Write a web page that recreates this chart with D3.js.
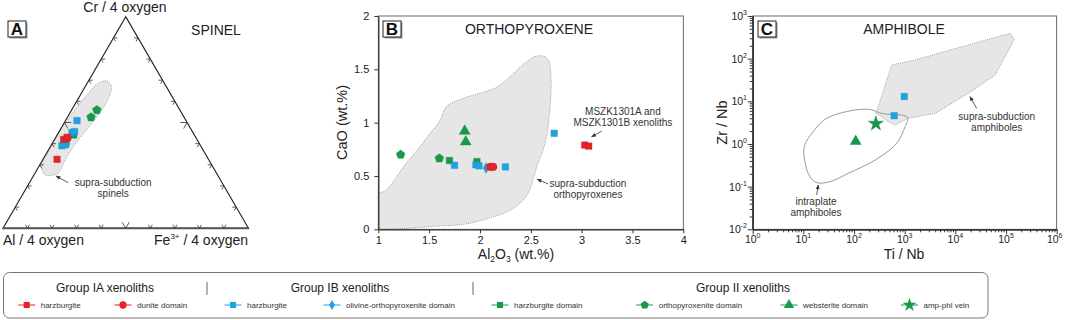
<!DOCTYPE html>
<html>
<head>
<meta charset="utf-8">
<script src="https://cdn.jsdelivr.net/npm/d3@7"></script>
<style>
  body { margin: 0; background: #fff; }
  svg { display: block; font-family: "Liberation Sans", Arial, sans-serif; }
</style>
</head>
<body>
<script>
const red = '#e4232b', blue = '#1da3e0', green = '#18994a';

// --- panel A: spinel, [Cr, Fe3+] fractions (Al = rest)
const spIAharz = [[0.326, 0.057], [0.42, 0.037], [0.43, 0.046]];
const spIAdun = [[0.425, 0.05]];
const spIBharz = [[0.509, 0.047], [0.452, 0.055], [0.457, 0.063], [0.39, 0.045], [0.398, 0.057]];
const spIBolop = [[0.40, 0.06]];
const spIIharz = [[0.441, 0.067]];
const spIIopx = [[0.559, 0.103], [0.525, 0.096]];
const spField = [[0.26, 0.035], [0.307, 0.005], [0.362, 0.005], [0.449, 0.002], [0.551, 0.012], [0.63, 0.027],
  [0.682, 0.042], [0.696, 0.075], [0.672, 0.105], [0.606, 0.123], [0.527, 0.119], [0.449, 0.104],
  [0.378, 0.092], [0.307, 0.093], [0.263, 0.095], [0.252, 0.08], [0.249, 0.055]];

// --- panel B: orthopyroxene, [Al2O3, CaO]
const opxIAharz = [[3.03, 0.79], [3.07, 0.78]];
const opxIAdun = [[2.10, 0.585], [2.13, 0.585]];
const opxIBharz = [[1.75, 0.60], [1.96, 0.605], [1.99, 0.595], [2.25, 0.585], [2.73, 0.90]];
const opxIBolop = [[2.06, 0.575]];
const opxIIharz = [[1.70, 0.645], [1.97, 0.635]];
const opxIIopx = [[1.22, 0.70], [1.60, 0.665]];
const opxIIweb = [[1.85, 0.92], [1.86, 0.82]];
const opxField = [[1, 0.344], [1.07, 0.36], [1.15, 0.45], [1.25, 0.59], [1.38, 0.74], [1.51, 0.9], [1.61, 1.025],
  [1.67, 1.15], [1.84, 1.23], [2.0, 1.275], [2.16, 1.33], [2.26, 1.40], [2.36, 1.49], [2.46, 1.57], [2.54, 1.62],
  [2.62, 1.625], [2.67, 1.59], [2.69, 1.525], [2.70, 1.34], [2.69, 1.15], [2.66, 0.90], [2.62, 0.74], [2.57, 0.62],
  [2.52, 0.46], [2.48, 0.35], [2.38, 0.23], [2.23, 0.15], [2.03, 0.088], [1.84, 0.047], [1.51, 0.025],
  [1.23, 0.006], [1, 0]];

// --- panel C: amphibole, [Ti/Nb, Zr/Nb]
const ampIBharz = [[980, 13], [620, 4.6]];
const ampIIweb = [[108, 1.15]];
const ampIIvein = [[270, 3.0]];
const ampSupra = [[272, 5.2], [554, 71], [1600, 93], [13300, 190], [120000, 392], [146000, 284], [60700, 41],
  [18000, 15.4], [3980, 5.2], [1180, 4.0], [645, 2.8], [475, 3.3], [353, 4.4]];
const ampIntra = [[10.4, 0.87], [15.7, 1.95], [26.8, 3.79], [57, 5.4], [141, 6.5], [223, 6.3], [352, 5.2],
  [1146, 4.2], [1016, 2.55], [695, 1.04], [260, 0.42], [77, 0.205], [33.6, 0.131], [18.3, 0.124],
  [13.5, 0.171], [11.1, 0.32]];

const xTicksB = [1, 1.5, 2, 2.5, 3, 3.5, 4];
const yTicksB = [0, 0.5, 1, 1.5, 2];
const xDecC = [0, 1, 2, 3, 4, 5, 6];
const yDecC = [-2, -1, 0, 1, 2, 3];

const legendGroups = ['Group IA xenoliths', 'Group IB xenoliths', 'Group II xenoliths'];
const legendLabels = ['harzburgite', 'dunite domain', 'harzburgite', 'olivine-orthopyroxenite domain',
  'harzburgite domain', 'orthopyroxenite domain', 'websterite domain', 'amp-phl vein'];
const legendColors = [red, red, blue, blue, green, green, green, green];
const legendShapes = ['square', 'circle', 'square', 'diamond', 'square', 'pentagon', 'triangle', 'star'];

// layout for legend
const groupX = [105, 340, 743], sepX = [207, 473];
const legendX = [26.7, 123, 233, 332, 500, 644.7, 789, 909.5];

const svg = d3.select('body').append('svg').attr('width', 1065).attr('height', 320);

const symbolPentagon = {
  draw(ctx, size) {
    const r = Math.sqrt(size / 2.378);
    for (let i = 0; i < 5; i++) {
      const a = -Math.PI / 2 + i * 2 * Math.PI / 5;
      i ? ctx.lineTo(r * Math.cos(a), r * Math.sin(a)) : ctx.moveTo(r * Math.cos(a), r * Math.sin(a));
    }
    ctx.closePath();
  }
};
const shapes = { square: d3.symbolSquare, circle: d3.symbolCircle, diamond: d3.symbolDiamond,
  triangle: d3.symbolTriangle, star: d3.symbolStar, pentagon: symbolPentagon };
const sizes = { square: 42, circle: 46, diamond: 32, triangle: 52, star: 55, pentagon: 50 };

function points(g, data, fx, fy, shape, color, k = 1) {
  g.append('g').selectAll('path').data(data).join('path')
    .attr('transform', d => `translate(${fx(d)},${fy(d)})`)
    .attr('d', d3.symbol(shapes[shape], sizes[shape] * k))
    .attr('fill', color).attr('stroke', d3.color(color).darker(0.4)).attr('stroke-width', 0.4);
}

svg.append('defs').append('marker')
  .attr('id', 'ah').attr('viewBox', '0 0 10 10').attr('refX', 9).attr('refY', 5)
  .attr('markerWidth', 6).attr('markerHeight', 6).attr('orient', 'auto')
  .append('path').attr('d', 'M0,1L10,5L0,9z').attr('fill', '#333');

function arrow(g, p1, p2) {
  g.append('line').attr('x1', p1[0]).attr('y1', p1[1]).attr('x2', p2[0]).attr('y2', p2[1])
    .attr('stroke', '#333').attr('stroke-width', 0.8).attr('marker-end', 'url(#ah)');
}
function note(g, lines, p, dy) {
  lines.forEach((t, i) => g.append('text').attr('x', p[0]).attr('y', p[1] + i * dy + 3.5)
    .attr('text-anchor', 'middle').attr('font-size', 10).attr('fill', '#333').text(t));
}
function letterBox(x, y, letter) {
  svg.append('rect').attr('x', x + 1.5).attr('y', y + 1.5).attr('width', 18).attr('height', 16).attr('fill', '#999');
  svg.append('rect').attr('x', x).attr('y', y).attr('width', 18).attr('height', 16)
    .attr('fill', '#fff').attr('stroke', '#222').attr('stroke-width', 1);
  svg.append('text').attr('x', x + 9).attr('y', y + 14).attr('text-anchor', 'middle')
    .attr('font-size', 17).attr('font-weight', 'bold').attr('fill', '#111').text(letter);
}
function title(x, y, t) {
  svg.append('text').attr('x', x).attr('y', y).attr('text-anchor', 'middle')
    .attr('font-size', 14).attr('fill', '#222').text(t);
}
function styleAxis(g) {
  g.select('.domain').attr('stroke', '#333').attr('stroke-width', 1.3);
  g.selectAll('.tick line').attr('stroke', '#333');
  g.selectAll('.tick text').attr('font-size', 11).attr('fill', '#222').attr('font-family', null);
}

// ================= Panel A (ternary)
const gA = svg.append('g');
const xT = d3.scaleLinear().domain([0, 1]).range([3, 248.5]);
const yT = d3.scaleLinear().domain([0, 1]).range([228.3, 16.7]);
const tx = d => xT(d[1] + d[0] / 2), ty = d => yT(d[0]);

gA.append('path').attr('d', d3.line().x(tx).y(ty).curve(d3.curveCatmullRomClosed)(spField))
  .attr('fill', '#e6e6e6').attr('stroke', '#888').attr('stroke-width', 0.8).attr('stroke-dasharray', '1,1.2');

const corners = [[1, 0], [0, 0], [0, 1]];
gA.append('path').attr('d', d3.line().x(tx).y(ty)(corners) + 'Z')
  .attr('fill', 'none').attr('stroke', '#222').attr('stroke-width', 1.2);
gA.append('line').attr('x1', tx([0, 0])).attr('y1', ty([0, 0])).attr('x2', tx([0, 1])).attr('y2', ty([0, 1]))
  .attr('stroke', '#555').attr('stroke-width', 2);

// ternary ticks (chevrons pointing inward)
const tickT = d3.range(1, 10).map(i => i / 10);
const edges = [
  { p: t => [0, t], dirs: [[-0.5, -0.866], [0.5, -0.866]] },           // bottom Al-Fe
  { p: t => [t, 0], dirs: [[1, 0], [0.5, 0.866]] },                     // left Al-Cr
  { p: t => [t, 1 - t], dirs: [[-1, 0], [-0.5, 0.866]] }                // right Cr-Fe
];
edges.forEach(e => tickT.forEach(t => {
  const c = e.p(t), px = tx(c), py = ty(c), L = Math.abs(t - 0.5) < 1e-6 ? 7 : 4;
  e.dirs.forEach(dv => gA.append('line').attr('x1', px).attr('y1', py)
    .attr('x2', px + dv[0] * L).attr('y2', py + dv[1] * L).attr('stroke', '#333').attr('stroke-width', 0.8));
}));

points(gA, spIIharz, tx, ty, 'square', green);
points(gA, spIIopx, tx, ty, 'pentagon', green);
points(gA, spIBolop, tx, ty, 'diamond', blue);
points(gA, spIBharz, tx, ty, 'square', blue);
points(gA, spIAdun, tx, ty, 'circle', red);
points(gA, spIAharz, tx, ty, 'square', red);

note(gA, ['supra-subduction', 'spinels'], [tx([0.2155, 0.341]), ty([0.2155, 0.341])], 10.6);
arrow(gA, [tx([0.2155, 0.158]), ty([0.2155, 0.158])], [tx([0.247, 0.093]), ty([0.247, 0.093])]);

svg.append('text').attr('x', 125).attr('y', 11.5).attr('text-anchor', 'middle').attr('font-size', 14)
  .attr('fill', '#222').text('Cr / 4 oxygen');
svg.append('text').attr('x', 3).attr('y', 245).attr('font-size', 14).attr('fill', '#222').text('Al / 4 oxygen');
const fe = svg.append('text').attr('x', 248).attr('y', 245).attr('text-anchor', 'end').attr('font-size', 14).attr('fill', '#222');
fe.append('tspan').text('Fe');
fe.append('tspan').attr('dy', -6).attr('font-size', 8).text('3+');
fe.append('tspan').attr('dy', 6).text(' / 4 oxygen');
title(216, 35, 'SPINEL');
letterBox(8, 21, 'A');

// ================= Panel B
const gB = svg.append('g');
const xB = d3.scaleLinear().domain([1, 4]).range([378.3, 683.3]);
const yB = d3.scaleLinear().domain([0, 2]).range([229.3, 16]);
const bx = d => xB(d[0]), by = d => yB(d[1]);

gB.append('path').attr('d', d3.line().x(bx).y(by).curve(d3.curveCatmullRom)(opxField) + 'Z')
  .attr('fill', '#e6e6e6').attr('stroke', '#888').attr('stroke-width', 0.8).attr('stroke-dasharray', '1,1.2');
gB.append('rect').attr('x', 378.3).attr('y', 16).attr('width', 305).attr('height', 213.3)
  .attr('fill', 'none').attr('stroke', '#444').attr('stroke-width', 0.8);
gB.append('g').attr('transform', 'translate(0,229.3)')
  .call(d3.axisBottom(xB).tickValues(xTicksB).tickFormat(d3.format('')).tickSize(4).tickSizeOuter(0).tickPadding(3))
  .call(styleAxis);
gB.append('g').attr('transform', 'translate(378.3,0)')
  .call(d3.axisLeft(yB).tickValues(yTicksB).tickFormat(d3.format('')).tickSize(4).tickSizeOuter(0).tickPadding(5))
  .call(styleAxis);

points(gB, opxIIopx, bx, by, 'pentagon', green);
points(gB, opxIIharz, bx, by, 'square', green);
points(gB, opxIIweb, bx, by, 'triangle', green);
points(gB, opxIBharz, bx, by, 'square', blue);
points(gB, opxIBolop, bx, by, 'diamond', blue);
points(gB, opxIAdun, bx, by, 'circle', red);
points(gB, opxIAharz, bx, by, 'square', red);

note(gB, ['MSZK1301A and', 'MSZK1301B xenoliths'], [xB(3.406), yB(1.10)], 11);
arrow(gB, [xB(3.197), yB(0.92)], [xB(3.098), yB(0.867)]);
note(gB, ['supra-subduction', 'orthopyroxenes'], [xB(3.062), yB(0.434)], 11);
arrow(gB, [xB(2.672), yB(0.425)], [xB(2.563), yB(0.469)]);

title(529, 34, 'ORTHOPYROXENE');
letterBox(383, 21, 'B');
svg.append('text').attr('transform', 'translate(347,122.5) rotate(-90)').attr('text-anchor', 'middle')
  .attr('font-size', 14.5).attr('fill', '#222').text('CaO (wt.%)');
const al = svg.append('text').attr('x', 516).attr('y', 259).attr('text-anchor', 'middle').attr('font-size', 14).attr('fill', '#222');
al.append('tspan').text('Al');
al.append('tspan').attr('dy', 3).attr('font-size', 8.5).text('2');
al.append('tspan').attr('dy', -3).text('O');
al.append('tspan').attr('dy', 3).attr('font-size', 8.5).text('3');
al.append('tspan').attr('dy', -3).text(' (wt.%)');

// ================= Panel C
const gC = svg.append('g');
const xC = d3.scaleLog().domain([1, 1e6]).range([752.7, 1056.7]);
const yC = d3.scaleLog().domain([0.01, 1000]).range([229.3, 16]);
const cx = d => xC(d[0]), cy = d => yC(d[1]);

gC.append('path').attr('d', d3.line().x(cx).y(cy)(ampSupra) + 'Z')
  .attr('fill', '#e6e6e6').attr('stroke', '#888').attr('stroke-width', 0.8).attr('stroke-dasharray', '1,1.2');
gC.append('path').attr('d', d3.line().x(cx).y(cy).curve(d3.curveCatmullRomClosed)(ampIntra))
  .attr('fill', 'none').attr('stroke', '#999').attr('stroke-width', 1);
gC.append('rect').attr('x', 752.7).attr('y', 16).attr('width', 304).attr('height', 213.3)
  .attr('fill', 'none').attr('stroke', '#444').attr('stroke-width', 0.8);

const minorX = d3.range(0, 6).flatMap(d => d3.range(2, 10).map(k => k * 10 ** d));
const minorY = d3.range(-2, 3).flatMap(d => d3.range(2, 10).map(k => k * 10 ** d));
gC.append('g').attr('transform', 'translate(0,229.3)')
  .call(d3.axisBottom(xC).tickValues(xDecC.map(d => 10 ** d)).tickFormat('').tickSize(5).tickSizeOuter(0))
  .call(styleAxis);
gC.append('g').attr('transform', 'translate(0,229.3)')
  .call(d3.axisBottom(xC).tickValues(minorX).tickFormat('').tickSize(3).tickSizeOuter(0))
  .call(styleAxis);
gC.append('g').attr('transform', 'translate(752.7,0)')
  .call(d3.axisLeft(yC).tickValues(yDecC.map(d => 10 ** d)).tickFormat('').tickSize(5).tickSizeOuter(0))
  .call(styleAxis);
gC.append('g').attr('transform', 'translate(752.7,0)')
  .call(d3.axisLeft(yC).tickValues(minorY).tickFormat('').tickSize(3).tickSizeOuter(0))
  .call(styleAxis);

gC.selectAll('.xl').data(xDecC).join('text').attr('class', 'xl')
  .attr('x', d => xC(10 ** d) - (d === 6 ? 2 : 0)).attr('y', 243).attr('text-anchor', 'middle')
  .attr('font-size', 10.5).attr('fill', '#222')
  .each(function (d) {
    const t = d3.select(this);
    t.append('tspan').text('10');
    t.append('tspan').attr('dy', -5).attr('font-size', 7).text(d);
  });
gC.selectAll('.yl').data(yDecC).join('text').attr('class', 'yl')
  .attr('x', 747).attr('y', d => yC(10 ** d) + 4).attr('text-anchor', 'end').attr('font-size', 10.5).attr('fill', '#222')
  .each(function (d) {
    const t = d3.select(this);
    t.append('tspan').text('10');
    t.append('tspan').attr('dy', -5).attr('font-size', 7).text(d);
  });

points(gC, ampIIweb, cx, cy, 'triangle', green);
points(gC, ampIIvein, cx, cy, 'star', green, 1.3);
points(gC, ampIBharz, cx, cy, 'square', blue);

note(gC, ['supra-subduction', 'amphiboles'], [xC(65400), yC(4.3)], 11);
arrow(gC, [xC(26300), yC(6.87)], [xC(19400), yC(12.9)]);
note(gC, ['intraplate', 'amphiboles'], [xC(17.8), yC(0.0445)], 10.5);
arrow(gC, [xC(18.3), yC(0.0638)], [xC(19.7), yC(0.109)]);

title(904, 34, 'AMPHIBOLE');
letterBox(758, 21, 'C');
svg.append('text').attr('transform', 'translate(727,122.5) rotate(-90)').attr('text-anchor', 'middle')
  .attr('font-size', 14.5).attr('fill', '#222').text('Zr / Nb');
svg.append('text').attr('x', 904).attr('y', 259).attr('text-anchor', 'middle').attr('font-size', 14)
  .attr('fill', '#222').text('Ti / Nb');

// ================= Legend
const gL = svg.append('g');
gL.append('rect').attr('x', 3.5).attr('y', 272.5).attr('width', 984.5).attr('height', 45.5).attr('rx', 6)
  .attr('fill', 'none').attr('stroke', '#777').attr('stroke-width', 1);
legendGroups.forEach((t, i) => gL.append('text').attr('x', groupX[i]).attr('y', 292).attr('text-anchor', 'middle')
  .attr('font-size', 12).attr('fill', '#222').text(t));
sepX.forEach(x => gL.append('line').attr('x1', x).attr('x2', x).attr('y1', 282).attr('y2', 295)
  .attr('stroke', '#666').attr('stroke-width', 1));
legendLabels.forEach((t, i) => {
  const x = legendX[i], y = 305;
  gL.append('line').attr('x1', x - 8.5).attr('x2', x + 8.5).attr('y1', y).attr('y2', y)
    .attr('stroke', legendColors[i]).attr('stroke-width', 1);
  gL.append('path').attr('transform', `translate(${x},${y})`)
    .attr('d', d3.symbol(shapes[legendShapes[i]], sizes[legendShapes[i]] * (legendShapes[i] === 'star' ? 1.1 : 0.9)))
    .attr('fill', legendColors[i]);
  gL.append('text').attr('x', x + 14).attr('y', y + 3).attr('font-size', 8).attr('fill', '#333').text(t);
});
</script>
</body>
</html>
